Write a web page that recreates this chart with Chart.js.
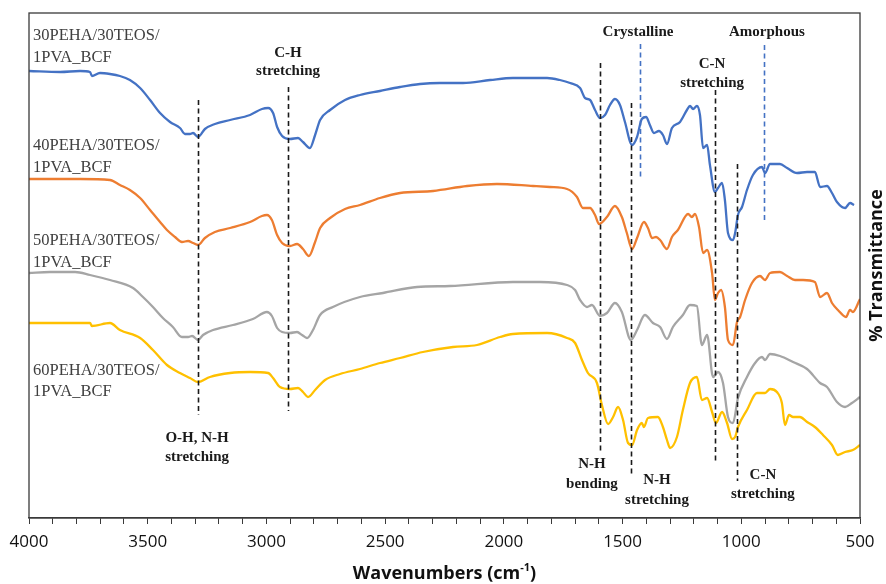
<!DOCTYPE html>
<html><head><meta charset="utf-8">
<script src="https://cdn.jsdelivr.net/npm/chart.js@4.4.1/dist/chart.umd.min.js"></script>
<style>html,body{margin:0;padding:0;background:#fff}#wrap{width:886px;height:584px}</style>
</head><body><div id="wrap"><canvas id="c" width="886" height="584"></canvas></div>
<script>
// ---- data (wavenumber cm-1, transmittance in arbitrary offset units) ----
const wn30 = [4000,3869,3785,3743,3735,3701,3659,3617,3575,3532,3490,3448,3406,3364,3343,3322,3309,3288,3259,3217,3153,3069,3019,2993,2972,2955,2934,2901,2867,2846,2817,2795,2774,2732,2669,2606,2522,2437,2353,2269,2172,2058,1962,1818,1764,1721,1679,1658,1637,1616,1595,1574,1553,1532,1511,1490,1460,1439,1419,1401,1385,1368,1347,1330,1313,1292,1258,1229,1216,1203,1187,1174,1161,1144,1132,1111,1098,1081,1069,1056,1035,1026,1014,997,976,951,913,900,879,837,807,765,723,690,668,639,618,597,563,542,525];
const t30 = [447,446,447,446,442,445,444,442,438,430,418,405,396,390,384,384,385,381,389,394,398,403,409,410,405,391,382,379,380,376,370,383,398,408,418,423,427,431,434,435,435,438,440,440,438,435,430,420,418,408,400,403,413,419,413,396,373,381,399,401,393,385,387,383,374,390,396,408,412,409,412,403,370,373,353,326,330,335,318,285,278,285,303,311,328,343,351,345,354,354,350,345,346,346,331,332,325,316,310,315,313];

const wn40 = [4000,3785,3659,3617,3575,3532,3490,3448,3419,3385,3356,3330,3309,3288,3259,3217,3153,3069,3019,2998,2977,2955,2934,2901,2871,2846,2821,2795,2774,2732,2669,2606,2522,2437,2298,2155,2029,1877,1806,1734,1692,1667,1637,1616,1599,1566,1532,1503,1482,1460,1439,1410,1393,1376,1359,1342,1313,1292,1267,1224,1208,1195,1178,1161,1144,1123,1111,1098,1085,1069,1056,1035,1018,1005,984,955,921,900,879,837,807,774,740,690,668,639,618,593,559,542,530,500];
const t40 = [339,339,338,333,328,320,308,296,288,281,276,277,275,273,280,286,290,296,302,303,298,283,275,272,274,269,262,276,290,300,309,313,320,325,327,332,334,332,331,329,321,310,310,303,294,301,312,301,285,269,280,296,290,280,281,278,269,281,288,304,301,304,291,265,268,245,218,225,228,211,178,173,196,201,218,235,242,238,245,246,242,238,238,236,221,225,215,208,201,208,206,219];

const wn50 = [4000,3912,3806,3743,3659,3562,3520,3478,3436,3394,3356,3330,3313,3288,3267,3225,3141,3057,2998,2977,2955,2934,2901,2871,2850,2829,2804,2774,2720,2606,2509,2366,2227,1962,1848,1734,1700,1679,1650,1629,1595,1566,1532,1503,1465,1439,1406,1372,1342,1313,1288,1246,1216,1187,1166,1144,1119,1098,1077,1056,1035,1014,976,942,913,900,879,837,782,723,668,639,597,563,534,500];
const t50 = [245,246,246,243,238,230,221,211,200,191,181,181,182,178,183,188,193,199,206,202,190,186,185,186,183,180,188,203,211,221,225,231,232,236,236,233,228,218,211,213,202,205,215,206,178,188,203,195,191,179,191,203,213,212,173,183,141,146,135,101,95,120,141,155,161,158,164,162,156,149,135,131,116,111,115,121];

const wn60 = [4000,3869,3743,3735,3659,3617,3532,3478,3419,3364,3322,3288,3238,3153,3069,2993,2972,2943,2901,2867,2846,2825,2795,2753,2690,2606,2522,2437,2341,2214,2113,2016,1962,1818,1734,1700,1671,1646,1608,1587,1561,1540,1519,1498,1477,1460,1439,1419,1410,1393,1351,1330,1313,1300,1271,1246,1216,1187,1166,1144,1123,1107,1081,1060,1039,1026,1014,976,934,900,879,850,829,816,799,782,753,723,690,656,618,593,563,530,500];
const t60 = [195,195,195,192,195,188,180,168,153,145,140,136,141,145,146,145,140,131,129,130,126,121,128,138,144,149,155,160,166,171,173,181,184,185,180,175,158,145,135,113,94,101,111,98,75,73,88,95,91,100,101,91,78,70,81,108,135,141,118,120,106,95,106,95,79,81,91,108,125,125,129,126,115,93,103,101,101,96,91,83,73,63,66,68,73];

const seriesNames = ['30PEHA/30TEOS/1PVA_BCF','40PEHA/30TEOS/1PVA_BCF','50PEHA/30TEOS/1PVA_BCF','60PEHA/30TEOS/1PVA_BCF'];
const xTickStep = 100, xLabelStep = 500;

// ---- annotations (positioned in data units) ----
const vLines = [
  {w:3288, top:418, bottom:103, color:'#1a1a1a'},
  {w:2909, top:431, bottom:107, color:'#1a1a1a'},
  {w:1595, top:455, bottom:66,  color:'#1a1a1a'},
  {w:1465, top:415, bottom:44,  color:'#1a1a1a'},
  {w:1427, top:474, bottom:340, color:'#4472C4'},
  {w:1111, top:428, bottom:55,  color:'#1a1a1a'},
  {w:1018, top:354, bottom:37,  color:'#1a1a1a'},
  {w:904,  top:473, bottom:298, color:'#4472C4'}
];
const seriesLabels = [
  {w:3983, v:478, text:'30PEHA/30TEOS/'}, {w:3983, v:456, text:'1PVA_BCF'},
  {w:3983, v:368, text:'40PEHA/30TEOS/'}, {w:3983, v:346, text:'1PVA_BCF'},
  {w:3983, v:273, text:'50PEHA/30TEOS/'}, {w:3983, v:251, text:'1PVA_BCF'},
  {w:3983, v:143, text:'60PEHA/30TEOS/'}, {w:3983, v:122, text:'1PVA_BCF'}
];
const bandLabels = [
  {w:2909, v:461, text:'C-H'}, {w:2909, v:443, text:'stretching'},
  {w:1435, v:482, text:'Crystalline'},
  {w:892,  v:482, text:'Amorphous'},
  {w:1123, v:450, text:'C-N'}, {w:1123, v:431, text:'stretching'},
  {w:3292, v:76,  text:'O-H, N-H'}, {w:3292, v:57, text:'stretching'},
  {w:1629, v:50,  text:'N-H'}, {w:1629, v:30, text:'bending'},
  {w:1355, v:34,  text:'N-H'}, {w:1355, v:14, text:'stretching'},
  {w:909,  v:39,  text:'C-N'}, {w:909,  v:20, text:'stretching'}
];

const colors = ['#4472C4','#ED7D31','#A5A5A5','#FFC000'];
const xs = [wn30, wn40, wn50, wn60], ys = [t30, t40, t50, t60];

const overlay = {
  id:'overlay',
  afterDatasetsDraw(chart){
    const {ctx, chartArea:a, scales:{x, y}} = chart;
    ctx.save();
    ctx.lineWidth = 1.6;
    ctx.setLineDash([5,3.5]);
    vLines.forEach(l => {
      const px = Math.round(x.getPixelForValue(l.w)) + 0.5;
      ctx.strokeStyle = l.color;
      ctx.beginPath();
      ctx.moveTo(px, y.getPixelForValue(l.top));
      ctx.lineTo(px, y.getPixelForValue(l.bottom));
      ctx.stroke();
    });
    ctx.setLineDash([]);
    ctx.strokeStyle = '#3a3a3a';
    ctx.lineWidth = 1.3;
    ctx.strokeRect(a.left, a.top, a.right - a.left, a.bottom - a.top);

    ctx.textBaseline = 'alphabetic';
    ctx.fillStyle = '#404040';
    ctx.textAlign = 'left';
    ctx.font = '16.5px "Liberation Serif"';
    seriesLabels.forEach(t => ctx.fillText(t.text, x.getPixelForValue(t.w), y.getPixelForValue(t.v)));
    ctx.fillStyle = '#1a1a1a';
    ctx.textAlign = 'center';
    ctx.font = 'bold 15px "Liberation Serif"';
    bandLabels.forEach(t => ctx.fillText(t.text, x.getPixelForValue(t.w), y.getPixelForValue(t.v)));

    // x title with superscript
    ctx.fillStyle = '#111';
    ctx.textAlign = 'left';
    const f1 = 'bold 18px "Open Sans"', f2 = 'bold 11px "Open Sans"';
    const p1 = 'Wavenumbers (cm', p2 = '-1', p3 = ')';
    ctx.font = f1; const w1 = ctx.measureText(p1).width, w3 = ctx.measureText(p3).width;
    ctx.font = f2; const w2 = ctx.measureText(p2).width;
    let sx = (a.left + a.right)/2 - (w1 + w2 + w3)/2;
    const by = 579;
    ctx.font = f1; ctx.fillText(p1, sx, by); sx += w1;
    ctx.font = f2; ctx.fillText(p2, sx, by - 8); sx += w2;
    ctx.font = f1; ctx.fillText(p3, sx, by);

    // y title on right
    ctx.translate(a.right + 17, (a.top + a.bottom)/2);
    ctx.rotate(-Math.PI/2);
    ctx.textAlign = 'center';
    ctx.textBaseline = 'middle';
    ctx.font = 'bold 18px "Open Sans"';
    ctx.fillText('% Transmittance', 0, 0);
    ctx.restore();
  }
};

new Chart(document.getElementById('c'), {
  type:'scatter',
  data:{
    datasets: seriesNames.map((n,i) => ({
      label:n,
      data: xs[i].map((w,k) => ({x:w, y:ys[i][k]})),
      showLine:true,
      borderColor:colors[i],
      backgroundColor:colors[i],
      borderWidth:2.3,
      pointRadius:0,
      cubicInterpolationMode:'monotone'
    }))
  },
  options:{
    responsive:false,
    animation:false,
    devicePixelRatio:1,
    layout:{padding:{left:29, top:13, right:26, bottom:0}},
    plugins:{legend:{display:false}, tooltip:{enabled:false}},
    scales:{
      x:{
        type:'linear', reverse:true, min:500, max:4000,
        afterFit(s){ s.height = 66; },
        border:{display:true, color:'#3a3a3a', width:1.3},
        grid:{display:true, drawOnChartArea:false, drawTicks:true, tickLength:6, color:'#3a3a3a', lineWidth:1},
        ticks:{stepSize:xTickStep, autoSkip:false, maxRotation:0, padding:8, color:'#111',
          font:{family:'"Open Sans"', size:17},
          callback:v => (v % xLabelStep === 0 ? String(v) : '')}
      },
      y:{display:false, min:0, max:505}
    }
  },
  plugins:[overlay]
});
</script>
</body></html>
